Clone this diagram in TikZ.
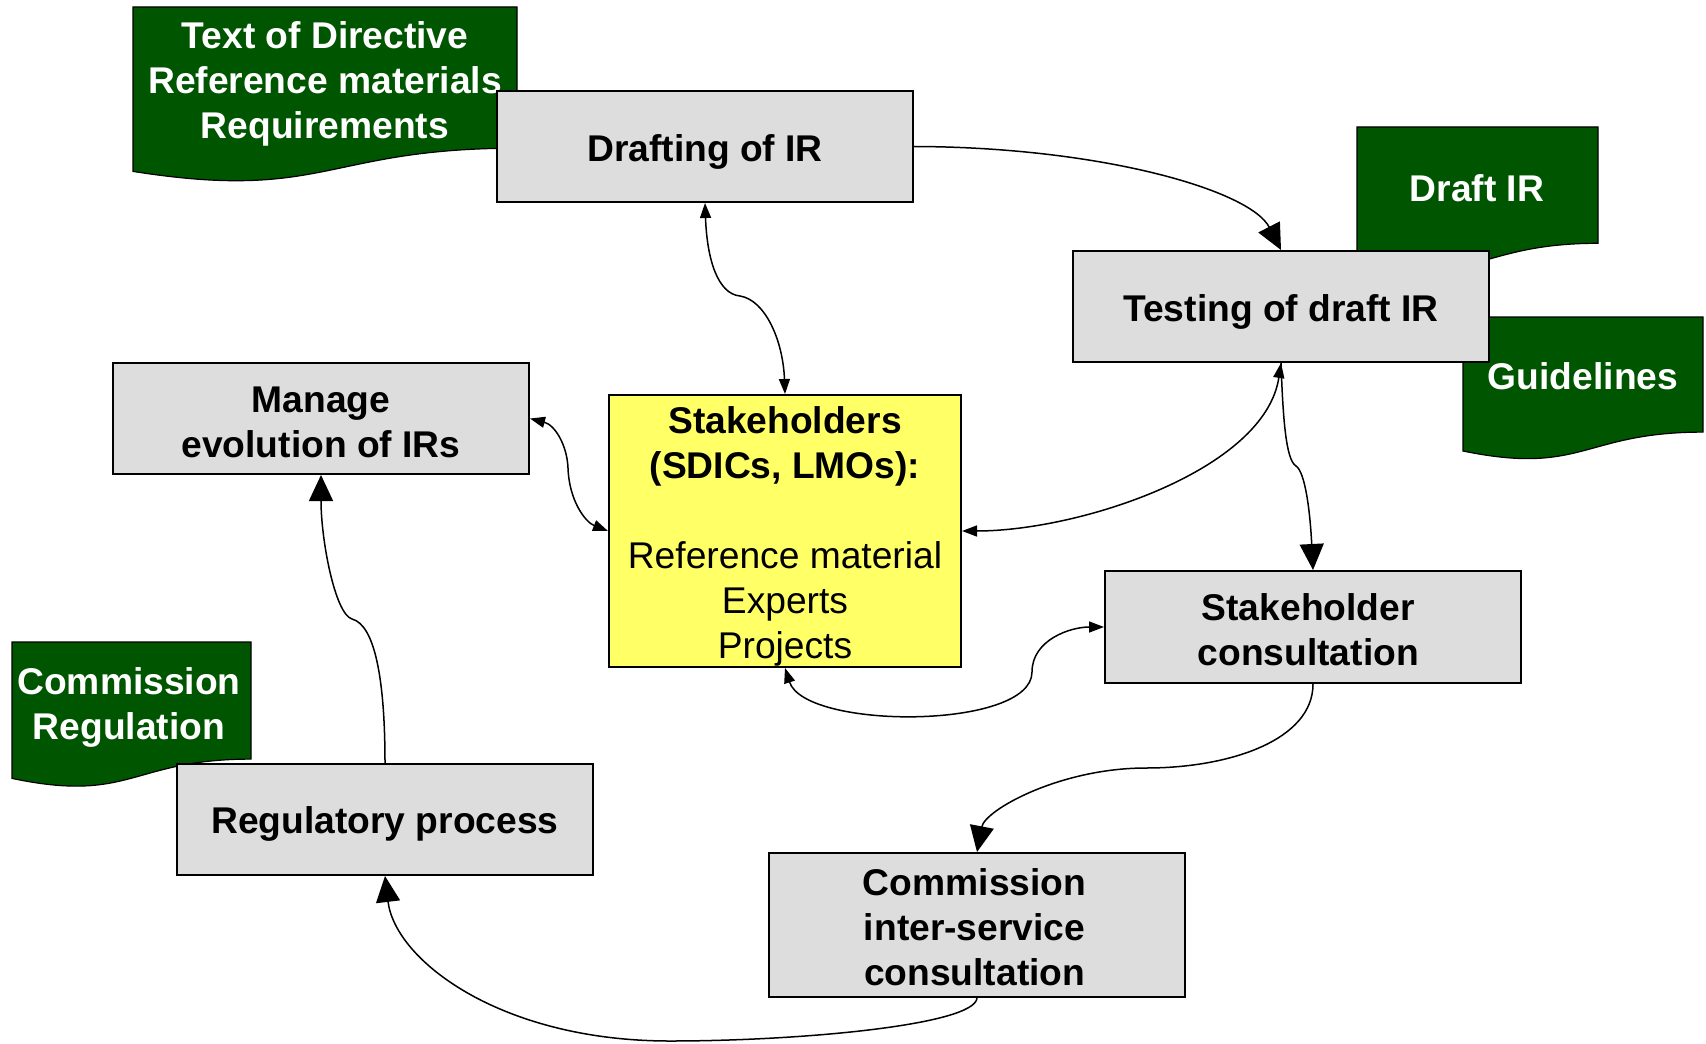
\documentclass[tikz,border=0pt]{standalone}
\usepackage{fontspec}
\setmainfont{Liberation Sans}
\usetikzlibrary{arrows.meta}
\definecolor{docgreen}{RGB}{0,85,0}
\definecolor{boxgrey}{RGB}{221,221,221}
\definecolor{stkyellow}{RGB}{255,255,102}
\begin{document}
\begin{tikzpicture}[x=0.5pt,y=-0.5pt,
  box/.style={draw=black,line width=1pt,fill=boxgrey,minimum width=208pt,minimum height=55.5pt,inner sep=0pt},
  boxtext/.style={align=center,inner sep=0pt,font=\fontsize{18.6}{22.5}\selectfont\bfseries},
  doc/.style={draw=black,line width=0.6pt,fill=docgreen},
  doctext/.style={text=white,align=center,inner sep=0pt,font=\fontsize{18.6}{22.5}\selectfont\bfseries},
  link/.style={line width=0.75pt,draw=black},
  twoway/.style={{Triangle[length=7.5pt,width=5.5pt]}-{Triangle[length=7.5pt,width=5.5pt]}},
  oneway/.style={-{Triangle[length=13pt,width=12pt]}}]
\useasboundingbox (0,0) rectangle (1706,1043);
\fill[white] (0,0) rectangle (1706,1043);
% documents
\draw[doc] (133,7) -- (517,7) -- (517,148.2) .. controls (325,148.2) and (325,201.8) .. (133,171.4) -- cycle;
\node[doctext] (dirtext) at (325,84) {Text of Directive\\Reference materials\\Requirements};
\draw[doc] (1357,127) -- (1598,127) -- (1598,243.3) .. controls (1477.5,243.3) and (1477.5,287.5) .. (1357,262.4) -- cycle;
\node[doctext] (drafttext) at (1477,188) {Draft IR};
\draw[doc] (1463,317) -- (1703,317) -- (1703,432.1) .. controls (1583,432.1) and (1583,475.8) .. (1463,451) -- cycle;
\node[doctext] (guidetext) at (1583,376) {Guidelines};
\draw[doc] (12,642) -- (251,642) -- (251,759.1) .. controls (131.5,759.1) and (131.5,803.6) .. (12,778.4) -- cycle;
\node[doctext] (comregtext) at (129,707) {Commission\\Regulation};
% boxes
\node[box] (draft) at (705,146.5) {};
\node[boxtext] (draft-t) at ([yshift=-2.7pt]draft.center) {Drafting of IR};
\node[box] (test) at (1281,306.5) {};
\node[boxtext] (test-t) at ([yshift=-2.7pt]test.center) {Testing of draft IR};
\node[box] (manage) at (321,418.5) {};
\node[boxtext] (manage-t) at ([yshift=-1.8pt]manage.center) {Manage\\evolution of IRs};
\node[box,fill=stkyellow,minimum width=176pt,minimum height=136pt] (stake) at (785,531) {};
\node[boxtext,font=\fontsize{18.6}{22.5}\selectfont] (stake-t) at ([yshift=-2.5pt]stake.center) {\textbf{Stakeholders}\\\textbf{(SDICs, LMOs):}\\[22.5pt]Reference material\\Experts\\Projects};
\node[box,minimum height=56pt] (sc) at (1313,627) {};
\node[boxtext] (sc-t) at ([xshift=-2.4pt,yshift=-1.2pt]sc.center) {Stakeholder\\consultation};
\node[box] (reg) at (385,819.5) {};
\node[boxtext] (reg-t) at ([yshift=-2.2pt]reg.center) {Regulatory process};
\node[box,minimum height=72pt] (cisc) at (977,925) {};
\node[boxtext] (cisc-t) at ([xshift=-1.2pt,yshift=-1.3pt]cisc.center) {Commission\\inter-service\\consultation};
% connectors
\draw[link,oneway] (draft.east) .. controls (1100,147) and (1250,190) .. (test.north);
\draw[link,twoway] (draft.south) .. controls (707,260) and (718,294) .. (740,296) .. controls (765,300) and (783,340) .. (stake.north);
\draw[link,twoway] (manage.east) .. controls (555,425) and (567,445) .. (568,468) .. controls (569,500) and (585,522) .. (stake.west);
\draw[link,twoway] (test.south) .. controls (1265,470) and (1080,531) .. (stake.east);
\draw[link,oneway] (test.south) .. controls (1283,420) and (1286,460) .. (1296,466) .. controls (1305,472) and (1310,510) .. (sc.north);
\draw[link,twoway] (stake.south) .. controls (805,730) and (1032,730) .. (1032,672) .. controls (1032,640) and (1070,627) .. (sc.west);
\draw[link,oneway] (sc.south) .. controls (1313,740) and (1230,768) .. (1146,768) .. controls (1060,768) and (985,810) .. (cisc.north);
\draw[link,oneway] (cisc.south) .. controls (975,1025) and (800,1041) .. (670,1041) .. controls (500,1041) and (395,960) .. (reg.south);
\draw[link,oneway] (reg.north) .. controls (385,680) and (375,625) .. (352,619) .. controls (335,614) and (321,540) .. (manage.south);
\end{tikzpicture}
\end{document}
